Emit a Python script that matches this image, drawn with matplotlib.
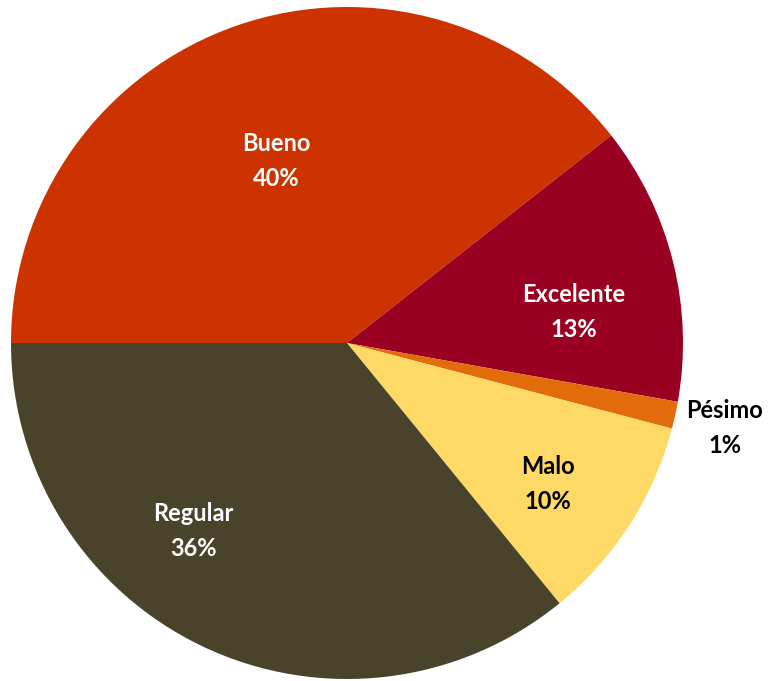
import matplotlib
matplotlib.use("Agg")
import matplotlib.pyplot as plt

categories = ["Bueno", "Excelente", "Pésimo", "Malo", "Regular"]
values = [39.4, 13.4, 1.3, 10.0, 35.9]
pct_labels = ["40%", "13%", "1%", "10%", "36%"]
colors = ["#CC3300", "#990022", "#E36C0A", "#FFD966", "#4A432B"]
text_colors = ["white", "white", "black", "black", "white"]
label_pos = [(-0.211, 0.542), (0.676, 0.092), (1.125, -0.253), (0.598, -0.42), (-0.458, -0.56)]

fig = plt.figure(figsize=(7.69, 6.81), dpi=100)
ax = fig.add_axes([11/769, 2/681, 672/769, 672/681])
ax.pie(values, colors=colors, startangle=180, counterclock=False,
       radius=1.0, wedgeprops=dict(linewidth=0))
ax.set_xlim(-1, 1)
ax.set_ylim(-1, 1)
ax.set_aspect("equal")
ax.axis("off")

for cat, pct, (x, y), tc in zip(categories, pct_labels, label_pos, text_colors):
    ax.text(x, y, f"{cat}\n{pct}", ha="center", va="center", color=tc,
            fontsize=17, fontweight="bold", family=["Lato", "DejaVu Sans"],
            linespacing=1.6)

fig.savefig("out.png", dpi=100)
